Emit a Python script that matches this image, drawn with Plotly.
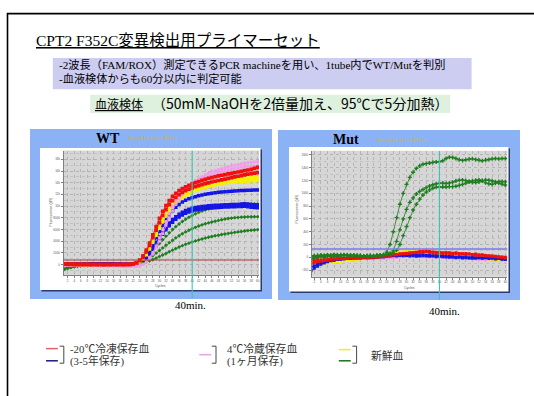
import plotly.graph_objects as go

W, H = 534, 396

cycles = list(range(1, 61))

# ---------------- WT amplification curves (Fluorescence dR per cycle) ----------------
wt_pink_1 = [-200, -150, -100, -80, -60, -50, -40, -30, -40, -50, -60, -80, -100, -120, -150, -180, -200, -250, -280, -300, -320, -330,
             -300, -200, 50, 500, 1200, 2100, 3200, 4600, 6000, 7400, 8700, 9900, 10900, 11800, 12500, 13100, 13600, 14000,
             14400, 14750, 15050, 15350, 15600, 15850, 16050, 16250, 16420, 16580, 16730, 16870, 17000, 17110, 17220, 17320,
             17410, 17490, 17550, 17600]
wt_pink_2 = [-100, -80, -60, -50, -40, -30, -30, -20, -30, -40, -50, -60, -80, -90, -100, -120, -150, -180, -200, -220, -250, -260,
             -240, -150, 80, 450, 1000, 1800, 2800, 4000, 5300, 6700, 8000, 9200, 10300, 11200, 12000, 12600, 13100, 13550,
             13950, 14300, 14600, 14880, 15120, 15350, 15550, 15740, 15910, 16070, 16210, 16340, 16460, 16560, 16650, 16730,
             16790, 16840, 16880, 16900]
wt_red_1 = [150, 100, 80, 60, 50, 60, 40, 50, 30, 40, 30, 40, 20, 40, 30, 30, 20, 30, 40, 30, 60, 120,
            350, 800, 1500, 2500, 3700, 5100, 6500, 7900, 9100, 10100, 10950, 11650, 12200, 12650, 13000, 13300, 13550, 13800,
            14000, 14200, 14400, 14570, 14730, 14880, 15020, 15150, 15270, 15390, 15500, 15610, 15720, 15830, 15940, 16050,
            16170, 16300, 16450, 16630]
wt_red_2 = [80, 60, 50, 40, 50, 30, 40, 30, 20, 30, 20, 30, 20, 30, 20, 30, 40, 30, 20, 40, 70, 130,
            300, 700, 1300, 2200, 3300, 4600, 5900, 7200, 8400, 9400, 10250, 10950, 11500, 11950, 12350, 12650, 12900, 13120,
            13320, 13500, 13670, 13830, 13980, 14120, 14250, 14380, 14500, 14620, 14740, 14860, 14980, 15100, 15220, 15340,
            15450, 15550, 15640, 15710]
wt_yellow_1 = [50, 40, 30, 40, 20, 30, 20, 30, 10, 20, 10, 20, 10, 0, 10, 0, -10, 0, -20, -10, 0, 60,
               200, 550, 1100, 1900, 2900, 4100, 5400, 6700, 7900, 8950, 9850, 10600, 11200, 11700, 12100, 12450, 12750, 13000,
               13220, 13420, 13600, 13760, 13900, 14030, 14150, 14260, 14360, 14450, 14530, 14600, 14660, 14710, 14760, 14800,
               14840, 14870, 14900, 14920]
wt_yellow_2 = [-50, -40, -30, -20, -30, -20, -10, -20, 0, -10, 0, -10, 0, 10, 0, 10, 0, -10, 0, 10, 20, 50,
               150, 450, 950, 1700, 2650, 3800, 5000, 6200, 7350, 8350, 9200, 9950, 10600, 11100, 11550, 11900, 12200, 12450,
               12680, 12880, 13060, 13220, 13370, 13500, 13620, 13730, 13830, 13920, 14000, 14070, 14130, 14180, 14220, 14250,
               14280, 14300, 14320, 14340]
wt_blue_1 = [150, 120, 130, 100, 120, 110, 130, 100, 120, 140, 110, 130, 120, 100, 130, 110, 90, 100, 80, 60, 60, 100,
             250, 550, 1000, 1650, 2500, 3500, 4600, 5700, 6750, 7700, 8500, 9200, 9800, 10300, 10700, 11000, 11250, 11450,
             11620, 11770, 11900, 12010, 12110, 12200, 12280, 12350, 12410, 12460, 12510, 12550, 12590, 12620, 12650, 12680,
             12700, 12720, 12740, 12760]
wt_blue_2 = [100, 120, 90, 110, 100, 120, 130, 110, 100, 120, 110, 130, 120, 110, 100, 90, 80, 70, 50, 40, 50, 80,
             200, 450, 850, 1400, 2100, 2950, 3850, 4750, 5600, 6400, 7100, 7700, 8200, 8600, 8950, 9250, 9450, 9620,
             9750, 9850, 9930, 10000, 10050, 10100, 10140, 10170, 10200, 10220, 10240, 10260, 10280, 10300, 10350, 10400,
             10350, 10280, 10230, 10200]
wt_blue_3 = [50, 70, 60, 80, 70, 90, 80, 70, 90, 80, 70, 80, 60, 70, 80, 60, 50, 40, 30, 20, 30, 50,
             150, 380, 750, 1250, 1900, 2700, 3550, 4400, 5200, 5950, 6650, 7250, 7750, 8150, 8500, 8780, 9000, 9180,
             9320, 9430, 9520, 9590, 9650, 9700, 9740, 9780, 9810, 9840, 9860, 9880, 9900, 9920, 9950, 9980,
             9900, 9830, 9780, 9740]
wt_green_1 = [-600, -450, -320, -220, -150, -100, -60, -40, -20, -10, 0, 10, 0, 10, 20, 10, 20, 30, 20, 30, 50, 80,
              180, 400, 750, 1200, 1750, 2350, 2980, 3620, 4250, 4870, 5450, 6000, 6500, 6960, 7380, 7760, 8100, 8410,
              8690, 8940, 9160, 9360, 9530, 9680, 9810, 9920, 10010, 10090, 10160, 10220, 10270, 10310, 10340, 10360,
              10370, 10360, 10360, 10370]
wt_green_2 = [-400, -300, -220, -160, -110, -80, -50, -30, -20, -10, 0, -10, 0, 10, 0, 10, 0, 10, 20, 10, 30, 60,
              130, 280, 500, 800, 1150, 1550, 1980, 2420, 2870, 3320, 3760, 4180, 4580, 4950, 5290, 5600, 5880, 6140,
              6380, 6600, 6800, 6980, 7140, 7290, 7430, 7560, 7680, 7790, 7880, 7960, 8030, 8080, 8120, 8150,
              8170, 8180, 8190, 8200]
wt_green_3 = [-800, -650, -500, -380, -280, -200, -140, -100, -70, -50, -30, -20, -10, 0, -10, 0, 10, 0, 10, 0, 20, 40,
              90, 180, 320, 480, 660, 880, 1120, 1380, 1650, 1920, 2200, 2480, 2750, 3010, 3250, 3470, 3680, 3880,
              4060, 4230, 4390, 4540, 4680, 4810, 4930, 5040, 5150, 5250, 5340, 5430, 5520, 5600, 5680, 5750,
              5820, 5880, 5930, 5980]

# ---------------- Mut amplification curves ----------------
mut_red_1 = [-40, -50, -30, -40, -20, -30, -10, -20, 0, -10, -20, -10, 0, -10, 0, -10, -5, 0, -10, 5,
             0, 10, 20, 30, 40, 50, 45, 55, 60, 65, 70, 75, 80, 90, 95, 100, 90, 85, 80, 75,
             70, 75, 70, 65, 70, 60, 55, 60, 50, 45, 50, 40, 35, 30, 25, 20, 15, 10, 5, 0]
mut_red_2 = [-95, -80, -70, -60, -55, -45, -40, -30, -25, -20, -20, -15, -10, -10, -5, -10, 0, -5, 0, 5,
             0, 10, 15, 20, 30, 35, 40, 50, 55, 60, 65, 70, 75, 70, 80, 85, 80, 70, 65, 70,
             65, 60, 65, 55, 60, 55, 50, 45, 50, 40, 35, 30, 35, 25, 20, 15, 10, 5, 0, -10]
mut_blue_1 = [-210, -170, -140, -110, -90, -70, -55, -45, -35, -30, -25, -20, -20, -15, -10, -10, -5, -5, 0, -5,
              0, 5, 10, 15, 20, 25, 20, 30, 25, 30, 20, 25, 15, 20, 25, 20, 15, 20, 10, 15,
              10, 5, 0, 5, -5, 0, -10, -5, -10, -15, -10, -5, -10, 0, -5, -10, -15, -20, -25, -30]
mut_blue_2 = [-150, -130, -110, -90, -75, -60, -50, -40, -35, -25, -20, -15, -15, -10, -10, -5, 0, -5, 0, 5,
              10, 15, 10, 20, 25, 30, 35, 30, 40, 35, 40, 45, 40, 35, 40, 30, 35, 25, 30, 20,
              25, 15, 20, 10, 5, 10, 0, 5, -5, 0, -10, -5, -15, -10, -20, -15, -25, -20, -30, -35]
mut_yellow_1 = [-130, -120, -110, -100, -95, -85, -80, -78, -70, -65, -55, -50, -40, -35, -30, -25, -20, -15, -10, -5,
                0, 10, 20, 35, 50, 60, 70, 80, 85, 90, 85, 90, 80, 85, 75, 70, 65, 60, 55, 50,
                55, 45, 40, 35, 30, 25, 20, 15, 10, 5, 0, -5, -10, -15, -20, -20, -25, -25, -30, -30]
mut_yellow_2 = [-100, -95, -90, -85, -80, -75, -70, -65, -60, -55, -50, -45, -40, -30, -25, -20, -15, -10, -5, 0,
                5, 10, 20, 30, 40, 55, 65, 70, 75, 80, 75, 70, 75, 65, 60, 55, 60, 50, 45, 40,
                45, 35, 30, 25, 20, 15, 10, 5, 0, -5, -10, -10, -15, -20, -25, -30, -35, -40, -45, -50]
mut_pink_1 = [-70, -65, -60, -55, -50, -45, -40, -35, -30, -30, -25, -20, -20, -15, -10, -10, -5, -5, 0, 0,
              -5, -10, -15, -10, -5, 0, 5, 10, 15, 20, 15, 20, 25, 20, 15, 20, 10, 15, 5, 10,
              0, 5, -5, 0, -10, -5, -15, -10, -20, -15, -25, -20, -30, -25, -35, -30, -40, -35, -45, -50]
mut_pink_2 = [-150, -130, -115, -100, -90, -80, -70, -60, -55, -50, -45, -40, -35, -30, -25, -20, -20, -15, -10, -10,
              -15, -20, -25, -20, -15, -10, -5, 0, 5, 10, 5, 10, 15, 10, 5, 0, 5, 0, -5, 0,
              -5, -10, -5, -15, -10, -20, -15, -25, -20, -30, -25, -35, -30, -40, -35, -45, -40, -50, -55, -60]
mut_green_1 = [10, 15, 20, 25, 20, 30, 25, 35, 30, 40, 35, 40, 30, 35, 25, 30, 20, 25, 15, 20, 25, 30, 40,
               80, 200, 400, 620, 830, 1000, 1140, 1250, 1330, 1390, 1430, 1455, 1465, 1475, 1485, 1490, 1495,
               1510, 1545, 1565, 1560, 1545, 1525, 1515, 1525, 1535, 1540, 1530, 1520, 1510, 1520, 1530, 1540,
               1545, 1540, 1545, 1545]
mut_green_2 = [-20, -10, 0, 10, 5, 15, 20, 15, 25, 20, 30, 25, 20, 30, 25, 20, 15, 20, 25, 20, 30, 25, 35, 45, 60,
               100, 250, 430, 600, 750, 860, 930, 990, 1030, 1060, 1090, 1115, 1135, 1150, 1160,
               1160, 1155, 1160, 1175, 1195, 1205, 1210, 1200, 1185, 1170, 1170, 1180, 1200, 1210, 1205, 1195,
               1180, 1160, 1145, 1130]
mut_green_3 = [20, 25, 30, 35, 30, 40, 35, 45, 40, 35, 40, 30, 35, 25, 30, 25, 20, 25, 30, 25, 30, 35, 40, 45, 55, 70,
               110, 200, 340, 480, 620, 740, 830, 910, 975, 1020, 1055, 1080, 1095, 1100,
               1100, 1100, 1105, 1105, 1110, 1125, 1140, 1160, 1180, 1195, 1205, 1210, 1195, 1165, 1150, 1140,
               1160, 1185, 1185, 1180]

wt_threshold = 800
mut_threshold = 130
read_cycle = 40

wt_yticks = list(range(0, 18001, 2000))
mut_yticks = list(range(-200, 1601, 200))
x_ticks = list(range(2, 61, 2))

SERIF = "Liberation Serif, Noto Sans CJK JP"
GOTHIC = "Noto Sans CJK JP"
SANS = "Liberation Sans, Arial"

RED, BLUE, YELLOW, PINK, GREEN = "#F01010", "#1414E6", "#F4F000", "#F49AE8", "#1E7D1E"


def fx(x):
    return x / W


def fy(y):
    return 1 - y / H


fig = go.Figure()

wt_series = [
    (wt_green_3, GREEN, "diamond", 3.0), (wt_green_2, GREEN, "diamond", 3.0), (wt_green_1, GREEN, "diamond", 3.0),
    (wt_blue_3, BLUE, "square", 3.5), (wt_blue_2, BLUE, "square", 3.5), (wt_blue_1, BLUE, "square", 3.5),
    (wt_yellow_2, YELLOW, "square", 3.3), (wt_yellow_1, YELLOW, "square", 3.3),
    (wt_pink_2, PINK, "square", 2.8), (wt_pink_1, PINK, "square", 2.8),
    (wt_red_2, RED, "square", 3.7), (wt_red_1, RED, "square", 3.7),
]
mut_series = [
    (mut_pink_2, PINK, "square", 2.6), (mut_pink_1, PINK, "square", 2.6),
    (mut_yellow_2, YELLOW, "square", 3.0), (mut_yellow_1, YELLOW, "square", 3.0),
    (mut_blue_2, BLUE, "square", 3.0), (mut_blue_1, BLUE, "square", 3.0),
    (mut_red_2, RED, "square", 3.0), (mut_red_1, RED, "square", 3.0),
    (mut_green_3, GREEN, "cross", 3.4), (mut_green_2, GREEN, "cross", 3.4), (mut_green_1, GREEN, "cross", 3.4),
]

for series, xa, ya in ((wt_series, "x", "y"), (mut_series, "x2", "y2")):
    for vals, color, sym, size in series:
        fig.add_trace(go.Scatter(
            x=cycles[:len(vals)], y=vals, mode="lines+markers",
            line=dict(color=color, width=0.8),
            marker=dict(symbol=sym, size=size, color=color, line=dict(width=0)),
            xaxis=xa, yaxis=ya, showlegend=False, hoverinfo="skip"))

shapes = []


def rect(x0, y0, x1, y1, fill, line_color=None, line_width=0, layer="below"):
    shapes.append(dict(type="rect", xref="paper", yref="paper",
                       x0=fx(x0), x1=fx(x1), y0=fy(y1), y1=fy(y0),
                       fillcolor=fill, layer=layer,
                       line=dict(color=line_color or fill, width=line_width)))


def seg(x0, y0, x1, y1, color, width, layer="above"):
    shapes.append(dict(type="line", xref="paper", yref="paper",
                       x0=fx(x0), x1=fx(x1), y0=fy(y0), y1=fy(y1),
                       line=dict(color=color, width=width), layer=layer))


# slide frame and text boxes
shapes.append(dict(type="rect", xref="paper", yref="paper", x0=fx(7.5), x1=fx(560), y0=fy(420), y1=fy(13.6),
                   fillcolor="rgba(0,0,0,0)", line=dict(color="#000000", width=1.6), layer="below"))
rect(52.8, 57.9, 471.6, 89.2, "#CDCDF2")
rect(90.2, 94.7, 450.1, 113.0, "#DEF0DE")

# panel backgrounds: blue frame, shadowed white card, grey plot area
for (bx0, by0, bx1, by1), (wx0, wy0, wx1, wy1), (xa, ya) in (
        ((30, 129, 272, 299), (40, 148, 260.5, 290), ("x", "y")),
        ((278, 130, 520, 300), (289, 147, 508.5, 291.5), ("x2", "y2"))):
    rect(bx0, by0, bx1, by1, "#8AB2F4")
    rect(wx0 + 1.5, wy0 + 1.5, wx1 + 1.5, wy1 + 1.5, "#2B3B6B")
    rect(wx0, wy0, wx1, wy1, "#FFFFFF")
    shapes.append(dict(type="rect", xref=xa + " domain", yref=ya + " domain", x0=0, x1=1, y0=0, y1=1,
                       fillcolor="#D6D6D6", line=dict(width=0), layer="below"))

# threshold lines
shapes.append(dict(type="line", xref="x domain", yref="y", x0=0, x1=1, y0=wt_threshold, y1=wt_threshold,
                   line=dict(color="#A23A3A", width=1.2), layer="above"))
shapes.append(dict(type="line", xref="x2 domain", yref="y2", x0=0, x1=1, y0=mut_threshold, y1=mut_threshold,
                   line=dict(color="#7A7AF0", width=1.6), layer="above"))

# 40-minute read line
shapes.append(dict(type="line", xref="x", yref="paper", x0=read_cycle, x1=read_cycle, y0=fy(298.5), y1=fy(150.8),
                   line=dict(color="#3FC3B3", width=1.1), layer="above"))
shapes.append(dict(type="line", xref="x2", yref="paper", x0=read_cycle, x1=read_cycle, y0=fy(300), y1=fy(151),
                   line=dict(color="#3FC3B3", width=1.1), layer="above"))

# legend swatches and brackets
seg(46, 348.6, 57.9, 348.6, "#E06464", 1.5)
seg(46, 360.8, 57.9, 360.8, "#1A1A80", 1.5)
seg(199.2, 354.7, 211.1, 354.7, "#E8A0E8", 1.5)
seg(338.8, 349.6, 350.7, 349.6, "#EEEE20", 1.5)
seg(338.8, 360.8, 350.7, 360.8, "#1E6E1E", 1.5)
for bx in (59.6, 211.8, 352.4):
    x_a, x_b = fx(bx), fx(bx + 4.2)
    y_a, y_b = fy(346.2), fy(363.2)
    shapes.append(dict(type="path", xref="paper", yref="paper",
                       path=f"M {x_a},{y_a} L {x_b},{y_a} L {x_b},{y_b} L {x_a},{y_b}",
                       line=dict(color="#333333", width=0.9), layer="above"))

annotations = []


def text(x, y, s, size, family=SERIF, color="#000000", xanchor="left", angle=0):
    annotations.append(dict(x=fx(x), y=fy(y), xref="paper", yref="paper", text=s, showarrow=False,
                            xanchor=xanchor, yanchor="middle", textangle=angle,
                            font=dict(size=size, family=family, color=color)))


text(34, 40.9, "<u>CPT2 F352C変異検出用プライマーセット</u>", 15.5)
text(57.2, 64.7, "-2波長（FAM/ROX）測定できるPCR machineを用い、1tube内でWT/Mutを判別", 11.2)
text(57.2, 78.3, "-血液検体からも60分以内に判定可能", 11.2)
text(92.6, 103.2, "<u>血液検体</u>", 12, GOTHIC)
text(149.8, 103.2, "（50mM-NaOHを2倍量加え、95℃で5分加熱）", 14, GOTHIC)

text(107.5, 138.3, "<b>WT</b>", 14, SERIF, xanchor="center")
text(126, 138.5, "Amplification Plots", 6, SANS, "#CDB545")
text(345.8, 139, "<b>Mut</b>", 14, SERIF, xanchor="center")
text(375, 139.5, "Amplification Plots", 6, SANS, "#CDB545")

text(160.7, 286, "Cycles", 3.5, SANS, "#505050", xanchor="center")
text(409.5, 287.5, "Cycles", 3.5, SANS, "#505050", xanchor="center")
text(50.5, 212, "Fluorescence (dR)", 3.5, SANS, "#505050", xanchor="center", angle=-90)
text(296.5, 209, "Fluorescence (dR)", 3.5, SANS, "#505050", xanchor="center", angle=-90)

text(190.7, 305.3, "40min.", 11, SERIF, xanchor="center")
text(444, 311, "40min.", 11, SERIF, xanchor="center")

text(68.1, 348.6, "-20℃冷凍保存血", 10.8, SERIF, "#333333")
text(68.1, 360.8, "(3-5年保存)", 10.8, SERIF, "#333333")
text(224.7, 348.6, "4℃冷蔵保存血", 10.8, SERIF, "#333333")
text(224.7, 360.8, "(1ヶ月保存)", 10.8, SERIF, "#333333")
text(369.4, 355.4, "新鮮血", 10.8, SERIF, "#333333")

grid = dict(showgrid=True, gridcolor="#B4B4B4", griddash="dot", gridwidth=0.5)
axis_common = dict(zeroline=False, showline=True, linecolor="#808080", linewidth=0.8,
                   ticks="outside", ticklen=2, tickwidth=0.6, tickcolor="#808080",
                   tickfont=dict(size=3, color="#555555", family=SANS), automargin=False, **grid)
minor_y = dict(showgrid=True, gridcolor="#C2C2C2", griddash="dot", gridwidth=0.5)

fig.update_layout(
    width=W, height=H, margin=dict(l=0, r=0, t=0, b=0),
    paper_bgcolor="#FFFFFF", plot_bgcolor="rgba(0,0,0,0)",
    xaxis=dict(domain=[fx(63.5), fx(259)], range=[0.72, 60.4], tickvals=x_ticks, anchor="y", **axis_common),
    yaxis=dict(domain=[fy(275), fy(150.5)], range=[-1760, 19500], tickvals=wt_yticks, anchor="x",
               minor=dict(dtick=1000, tick0=0, **minor_y), **axis_common),
    xaxis2=dict(domain=[fx(311.7), fx(507.3)], range=[1.21, 60.6], tickvals=x_ticks, anchor="y2", **axis_common),
    yaxis2=dict(domain=[fy(276.7), fy(150.7)], range=[-303, 1667], tickvals=mut_yticks, anchor="x2",
                minor=dict(dtick=100, tick0=0, **minor_y), **axis_common),
    shapes=shapes, annotations=annotations,
)

fig.write_html("out.html")
